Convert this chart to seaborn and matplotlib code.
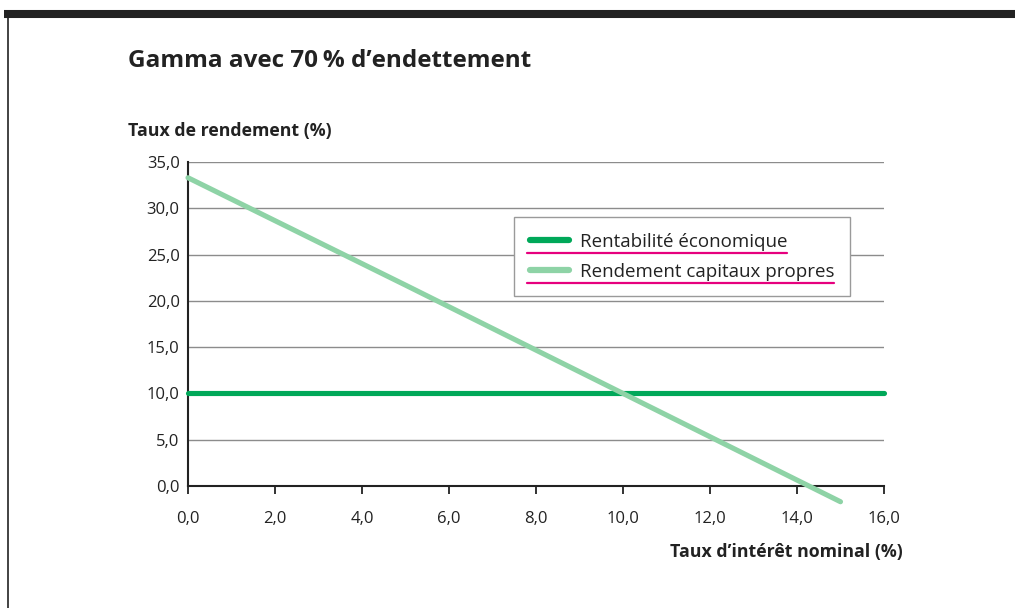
import pandas as pd
import matplotlib
matplotlib.use("Agg")
import matplotlib.pyplot as plt
import seaborn as sns
from matplotlib.ticker import FuncFormatter
from matplotlib.lines import Line2D

# Data
taux_interet = [0.0, 5.0, 10.0, 15.0]
rendement_cp = [33.3, 21.7, 10.0, -1.7]
taux_eco = [0.0, 16.0]
rentab_eco = [10.0, 10.0]

series_names = ["Rentabilité économique", "Rendement capitaux propres"]
colors = ["#00A859", "#8ED3A6"]

df = pd.concat([
    pd.DataFrame({"x": taux_eco, "y": rentab_eco, "serie": series_names[0]}),
    pd.DataFrame({"x": taux_interet, "y": rendement_cp, "serie": series_names[1]}),
])

sns.set_theme(style="white")
plt.rcParams["font.family"] = ["Open Sans", "DejaVu Sans"]

fig = plt.figure(figsize=(10.15, 6.08), dpi=100)
ax = fig.add_axes([188 / 1015, 1 - 486 / 608, 696 / 1015, 324 / 608])

sns.lineplot(data=df, x="x", y="y", hue="serie", palette=dict(zip(series_names, colors)),
             linewidth=3.7, ax=ax, legend=False, solid_capstyle="round", zorder=3)

ax.set_xlim(0, 16)
ax.set_ylim(0, 35)
ax.set_xticks(range(0, 17, 2))
ax.set_yticks(range(0, 36, 5))
fmt = FuncFormatter(lambda v, p: f"{v:.1f}".replace(".", ","))
ax.xaxis.set_major_formatter(fmt)
ax.yaxis.set_major_formatter(fmt)
ax.grid(axis="y", color="#8c8c8c", linewidth=1.0)
ax.set_axisbelow(True)
ax.set_xlabel("")
ax.set_ylabel("")
for s in ["top", "right"]:
    ax.spines[s].set_visible(False)
for s in ["left", "bottom"]:
    ax.spines[s].set_color("#222222")
    ax.spines[s].set_linewidth(1.5)
ax.tick_params(axis="x", direction="out", length=6, width=1.3, color="#222222",
               labelsize=12, labelcolor="#222222", pad=12, bottom=True)
ax.tick_params(axis="y", length=0, labelsize=12, labelcolor="#222222", pad=6)
for line in ax.lines:
    line.set_clip_on(False)

handles = [Line2D([], [], color=c, linewidth=4.5, solid_capstyle="round") for c in colors]
leg = fig.legend(handles, series_names, loc="upper left",
                 bbox_to_anchor=(514 / 1015, 1 - 217 / 608), borderaxespad=0,
                 frameon=True, fancybox=False, fontsize=13.5, handlelength=2.1,
                 handletextpad=0.55, borderpad=0.85, labelspacing=0.62, framealpha=1,
                 edgecolor="#9a9a9a")
leg.get_frame().set_linewidth(1.0)
for t in leg.get_texts():
    t.set_color("#222222")

fig.text(128 / 1015, 1 - 61 / 608, "Gamma avec 70\u202f% d\u2019endettement", fontsize=17.5,
         fontweight="bold", color="#222222", va="center", ha="left")
fig.text(128 / 1015, 1 - 131 / 608, "Taux de rendement (%)", fontsize=12.8,
         fontweight="bold", color="#222222", va="center", ha="left")
fig.text(903 / 1015, 1 - 552 / 608, "Taux d\u2019intérêt nominal (%)", fontsize=12.8,
         fontweight="bold", color="#222222", va="center", ha="right")

# page frame: top black bar and left rule
fig.add_artist(Line2D([4 / 1015, 1], [1 - 14 / 608, 1 - 14 / 608], color="#222222",
                      linewidth=5.8, solid_capstyle="butt", transform=fig.transFigure))
fig.add_artist(Line2D([8 / 1015, 8 / 1015], [0, 1 - 14 / 608], color="#222222",
                      linewidth=1.2, transform=fig.transFigure))

# magenta underlines under legend entries
fig.canvas.draw()
r = fig.canvas.get_renderer()
hx = leg.get_frame().get_window_extent(r).x0 + 13
for t in leg.get_texts():
    bb = t.get_window_extent(r)
    y = bb.y0 - 2
    fig.add_artist(Line2D([hx / 1015, bb.x1 / 1015], [y / 608, y / 608], color="#E6007E",
                          linewidth=1.6, transform=fig.transFigure, zorder=10))

fig.savefig("out.png", dpi=100)
